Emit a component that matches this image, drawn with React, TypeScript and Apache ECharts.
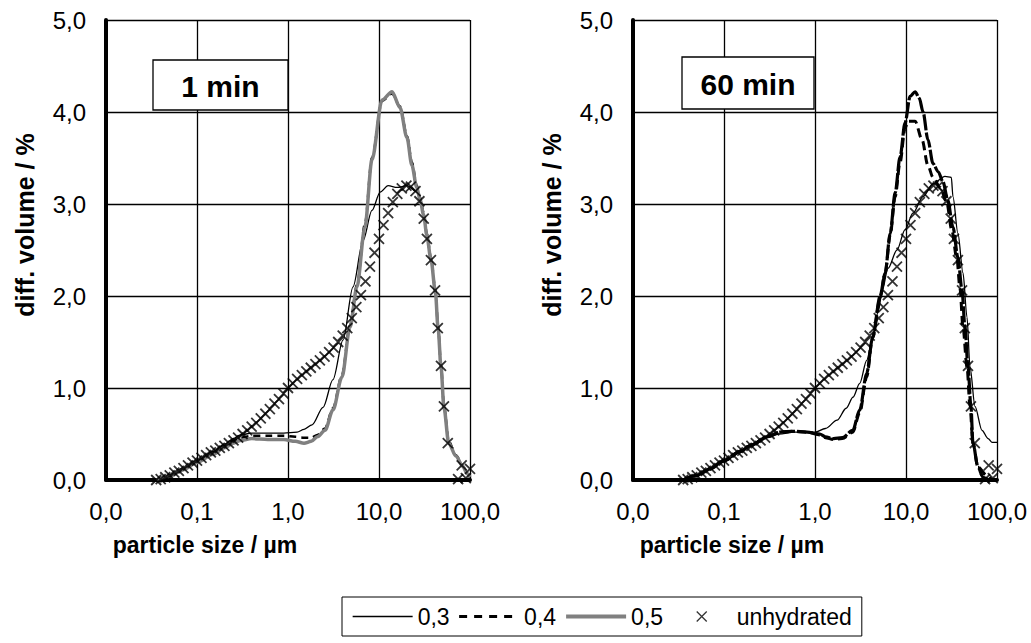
import React, { useEffect, useRef } from "react";
import * as echarts from "echarts";

// ---------- data (particle size in µm, diff. volume in %) ----------
const legendNames = ["0,3", "0,4", "0,5", "unhydrated"];
const panelTitles = ["1 min", "60 min"];

const unhydSize = [
  0.0356, 0.0399, 0.0448, 0.0502, 0.0564, 0.0632, 0.071, 0.0796, 0.0893, 0.1,
  0.112, 0.126, 0.142, 0.159, 0.178, 0.2, 0.224, 0.252, 0.283, 0.317,
  0.356, 0.399, 0.448, 0.502, 0.564, 0.632, 0.71, 0.796, 0.893, 1.0,
  1.13, 1.26, 1.42, 1.59, 1.78, 2.0, 2.24, 2.52, 2.83, 3.17,
  3.56, 3.99, 4.48, 5.02, 5.64, 6.33, 7.1, 7.96, 8.93, 10.0,
  11.2, 12.6, 14.2, 15.9, 17.8, 20.0, 22.4, 25.2, 27.8, 31.0,
  33.6, 37.2, 41.3, 44.3, 48.0, 51.7, 57.0, 74.0, 81.0, 90.0, 100,
];
const unhydVol = [
  0.0, 0.01, 0.03, 0.05, 0.08, 0.1, 0.13, 0.16, 0.19, 0.21,
  0.24, 0.27, 0.3, 0.32, 0.35, 0.37, 0.4, 0.43, 0.46, 0.5,
  0.54, 0.58, 0.62, 0.67, 0.72, 0.77, 0.83, 0.88, 0.94, 1.0,
  1.05, 1.1, 1.14, 1.18, 1.22, 1.26, 1.3, 1.34, 1.39, 1.44,
  1.5, 1.57, 1.65, 1.76, 1.88, 2.01, 2.16, 2.32, 2.47, 2.62,
  2.77, 2.9, 3.02, 3.11, 3.17, 3.2, 3.19, 3.14, 3.03, 2.84,
  2.62, 2.39, 2.06, 1.65, 1.24, 0.8, 0.4, 0.01, 0.16, 0.02, 0.12,
];

// 1 min, w/c 0,3
const m1w03Size = [
  0.036, 0.05, 0.07, 0.1, 0.15, 0.2, 0.25, 0.3, 0.4, 0.6, 0.9, 1.26, 1.5, 1.84,
  2.43, 3.12, 4.02, 5.18, 6.67, 8.37, 10.3, 12.6, 15.8, 20.3, 26.2, 28.2, 31.0,
  33.5, 37.3, 41.6, 44.6, 48.0, 51.8, 58.4, 70.0, 83.4, 92.7, 100,
];
const m1w03Vol = [
  0.0, 0.05, 0.12, 0.21, 0.31, 0.39, 0.45, 0.49, 0.51, 0.51, 0.51, 0.52, 0.55, 0.6,
  0.79, 1.09, 1.52, 2.1, 2.6, 2.93, 3.13, 3.2, 3.18, 3.2, 3.13, 3.05, 2.88,
  2.66, 2.39, 2.05, 1.65, 1.23, 0.78, 0.4, 0.26, 0.15, 0.07, 0.03,
];

// 1 min, w/c 0,4 and 0,5 (same sizes)
const m1Size = [
  0.036, 0.05, 0.07, 0.1, 0.15, 0.2, 0.25, 0.3, 0.4, 0.6, 0.9, 1.2, 1.5, 1.8,
  2.1, 2.55, 3.12, 3.92, 4.8, 5.73, 7.0, 8.37, 10.8, 13.9, 17.0, 20.3, 23.0,
  26.0, 28.2, 31.0, 33.5, 37.3, 41.6, 44.6, 48.0, 51.8, 58.4, 70.0, 83.4, 92.7, 100,
];
const m1w04Vol = [
  0.0, 0.05, 0.12, 0.2, 0.29, 0.37, 0.43, 0.46, 0.48, 0.48, 0.48, 0.47, 0.46, 0.46,
  0.49, 0.56, 0.78, 1.14, 1.68, 2.12, 2.78, 3.5, 4.12, 4.2, 4.06, 3.74, 3.45,
  3.2, 3.07, 2.9, 2.68, 2.41, 2.07, 1.67, 1.25, 0.8, 0.42, 0.27, 0.15, 0.07, 0.03,
];
const m1w05Vol = [
  0.0, 0.04, 0.11, 0.19, 0.28, 0.35, 0.4, 0.43, 0.45, 0.44, 0.44, 0.42, 0.4, 0.42,
  0.47, 0.54, 0.76, 1.12, 1.66, 2.1, 2.75, 3.48, 4.13, 4.22, 4.05, 3.72, 3.42,
  3.18, 3.05, 2.88, 2.66, 2.39, 2.05, 1.65, 1.23, 0.78, 0.4, 0.26, 0.15, 0.07, 0.03,
];

// 60 min, w/c 0,3
const m60w03Size = [
  0.036, 0.05, 0.07, 0.1, 0.15, 0.2, 0.3, 0.4, 0.6, 0.8, 1.0, 1.3, 1.75, 2.2,
  2.62, 3.1, 3.7, 4.3, 5.0, 5.45, 6.34, 7.96, 9.75, 11.9, 15.4, 19.8, 26.8,
  31.5, 32.8, 37.2, 42.3, 46.8, 50.5, 57.3, 68.4, 80.0, 88.0, 100,
];
const m60w03Vol = [
  0.0, 0.05, 0.12, 0.2, 0.3, 0.38, 0.46, 0.5, 0.52, 0.52, 0.52, 0.56, 0.65, 0.78,
  0.9, 1.05, 1.3, 1.55, 1.85, 2.05, 2.3, 2.5, 2.72, 2.9, 3.08, 3.22, 3.3,
  3.29, 3.08, 2.68, 2.25, 1.77, 1.23, 0.8, 0.54, 0.45, 0.41, 0.41,
];

// 60 min, w/c 0,4
const m60w04Size = [
  0.036, 0.05, 0.07, 0.1, 0.15, 0.2, 0.3, 0.41, 0.57, 0.82, 1.13, 1.3, 1.6, 2.0,
  2.6, 3.1, 3.7, 4.3, 5.2, 5.9, 6.7, 7.6, 8.6, 9.75, 10.5, 12.6, 15.0, 17.4,
  19.8, 23.7, 28.0, 31.8, 36.3, 39.2, 42.3, 46.8, 50.5, 54.4, 61.8, 77.0, 90.0, 100,
];
const m60w04Vol = [
  0.0, 0.05, 0.12, 0.21, 0.31, 0.38, 0.47, 0.52, 0.53, 0.52, 0.49, 0.46, 0.44, 0.45,
  0.52, 0.73, 1.12, 1.55, 1.98, 2.25, 2.66, 3.08, 3.45, 3.82, 3.9, 3.9, 3.7, 3.42,
  3.29, 3.18, 3.02, 2.72, 2.4, 2.08, 1.66, 1.23, 0.8, 0.4, 0.14, 0.05, 0.0, 0.0,
];

// 60 min, w/c 0,5
const m60w05Size = [
  0.036, 0.05, 0.07, 0.1, 0.15, 0.2, 0.3, 0.41, 0.57, 0.82, 1.13, 1.3, 1.6, 2.0,
  2.6, 3.1, 3.7, 4.3, 5.2, 5.9, 6.7, 7.6, 8.6, 9.75, 11.1, 12.6, 14.0, 15.4,
  17.4, 19.8, 22.6, 25.5, 28.8, 32.8, 37.2, 41.2, 44.5, 48.0, 51.7, 54.4, 61.8, 70.2, 83.8, 100,
];
const m60w05Vol = [
  0.0, 0.05, 0.12, 0.21, 0.31, 0.38, 0.47, 0.52, 0.53, 0.52, 0.5, 0.47, 0.45, 0.46,
  0.54, 0.76, 1.16, 1.55, 2.0, 2.25, 2.68, 3.12, 3.51, 3.88, 4.17, 4.22, 4.15, 4.0,
  3.7, 3.44, 3.35, 3.24, 3.04, 2.75, 2.42, 2.07, 1.66, 1.23, 0.8, 0.4, 0.14, 0.03, 0.0, 0.0,
];

const zip = (xs: number[], ys: number[]) => xs.map((x, i) => [x, ys[i]]);

const FONT = "'Liberation Sans', Arial, sans-serif";
const fmt = (v: number) => (Math.round(v * 10) / 10).toFixed(1).replace(".", ",");
const CROSS = "path://M0,0L10,10M10,0L0,10";
// same cross, centred in a wide box so the legend keeps it small and centred
const CROSS_LEGEND = "path://M0,0M60,10M25,0L35,10M35,0L25,10";

export default function App() {
  const ref = useRef<HTMLDivElement>(null);

  useEffect(() => {
    if (!ref.current) return;
    const chart = echarts.init(ref.current, undefined, { renderer: "svg" });

    const grids = [
      { left: 106, top: 20, width: 364, height: 460 },
      { left: 633, top: 20, width: 364, height: 460 },
    ];

    const xAxis = grids.map((_, i) => ({
      type: "log",
      logBase: 10,
      gridIndex: i,
      min: 0.01,
      max: 100,
      name: "particle size / µm",
      nameLocation: "middle",
      nameGap: 53,
      nameTextStyle: {
        fontFamily: FONT,
        fontSize: 23,
        fontWeight: "bold",
        color: "#000",
        padding: [0, 166, 0, 0],
      },
      axisLine: { show: true, onZero: false, lineStyle: { color: "#000", width: 4 } },
      axisTick: { show: false },
      minorTick: { show: false },
      axisLabel: { fontFamily: FONT, fontSize: 24, color: "#000", margin: 19, formatter: fmt },
      splitLine: { show: true, lineStyle: { color: "#000", width: 1.3 } },
    }));

    const yAxis = grids.map((_, i) => ({
      type: "value",
      gridIndex: i,
      min: 0,
      max: 5,
      interval: 1,
      name: "diff. volume / %",
      nameLocation: "middle",
      nameGap: 69,
      nameTextStyle: {
        fontFamily: FONT,
        fontSize: 25,
        fontWeight: "bold",
        color: "#000",
        padding: [0, 0, 0, 50],
      },
      axisLine: { show: true, lineStyle: { color: "#000", width: 4 } },
      axisTick: { show: false },
      axisLabel: { fontFamily: FONT, fontSize: 24, color: "#000", margin: 20, formatter: fmt },
      splitLine: { show: true, lineStyle: { color: "#000", width: 1.3 } },
    }));

    const lineBase = {
      type: "line",
      symbol: "none",
      smooth: 0.3,
      smoothMonotone: "x",
      clip: true,
    };

    const scatter = (i: number) => ({
      type: "scatter",
      name: legendNames[3],
      xAxisIndex: i,
      yAxisIndex: i,
      symbol: CROSS,
      symbolSize: 10,
      itemStyle: { color: "#000", borderColor: "#000", borderWidth: 1.8 },
      data: zip(unhydSize, unhydVol),
      z: 5,
    });

    const series: any[] = [
      {
        ...lineBase,
        name: legendNames[0],
        xAxisIndex: 0,
        yAxisIndex: 0,
        itemStyle: { color: "#000" },
        lineStyle: { color: "#000", width: 1.3 },
        data: zip(m1w03Size, m1w03Vol),
      },
      {
        ...lineBase,
        name: legendNames[1],
        xAxisIndex: 0,
        yAxisIndex: 0,
        itemStyle: { color: "#000" },
        lineStyle: { color: "#000", width: 2.5, type: [7, 5] },
        data: zip(m1Size, m1w04Vol),
      },
      {
        ...lineBase,
        name: legendNames[2],
        xAxisIndex: 0,
        yAxisIndex: 0,
        itemStyle: { color: "#808080" },
        lineStyle: { color: "#808080", width: 3.5 },
        data: zip(m1Size, m1w05Vol),
      },
      scatter(0),
      {
        ...lineBase,
        name: legendNames[0],
        xAxisIndex: 1,
        yAxisIndex: 1,
        itemStyle: { color: "#000" },
        lineStyle: { color: "#000", width: 1.3 },
        data: zip(m60w03Size, m60w03Vol),
      },
      {
        ...lineBase,
        name: legendNames[2],
        xAxisIndex: 1,
        yAxisIndex: 1,
        itemStyle: { color: "#000" },
        lineStyle: { color: "#000", width: 3.2, type: [16, 2] },
        data: zip(m60w05Size, m60w05Vol),
      },
      {
        ...lineBase,
        name: legendNames[1],
        xAxisIndex: 1,
        yAxisIndex: 1,
        itemStyle: { color: "#000" },
        lineStyle: { color: "#000", width: 3, type: [9, 5] },
        data: zip(m60w04Size, m60w04Vol),
      },
      scatter(1),
    ];

    const boxes = [
      { x: 153, y: 60, w: 135, h: 50 },
      { x: 682, y: 57, w: 132, h: 52 },
    ];

    const hidden = { opacity: 0, color: "rgba(0,0,0,0)", borderWidth: 0 };

    chart.setOption({
      animation: false,
      backgroundColor: "#fff",
      grid: grids,
      xAxis,
      yAxis,
      legend: {
        data: [
          { name: legendNames[0], itemStyle: hidden, lineStyle: { color: "#000", width: 1.3 } },
          {
            name: legendNames[1],
            itemStyle: hidden,
            lineStyle: { color: "#000", width: 3, type: [8, 7] },
          },
          { name: legendNames[2], itemStyle: hidden, lineStyle: { color: "#808080", width: 4 } },
          {
            name: legendNames[3],
            icon: CROSS_LEGEND,
            itemStyle: { color: "#000", borderColor: "#000", borderWidth: 1.3 },
          },
        ],
        left: 342,
        top: 597,
        orient: "horizontal",
        itemWidth: 60,
        itemHeight: 10,
        itemGap: 8,
        padding: [8, 10, 8, 10],
        borderColor: "#000",
        borderWidth: 1,
        selectedMode: false,
        textStyle: { fontFamily: FONT, fontSize: 23, color: "#000" },
      },
      graphic: boxes.flatMap((b, i) => [
        {
          type: "rect",
          shape: { x: b.x, y: b.y, width: b.w, height: b.h },
          style: { fill: "#fff", stroke: "#000", lineWidth: 1.3 },
          z: 100,
        },
        {
          type: "text",
          x: b.x + b.w / 2,
          y: b.y + b.h / 2 + 1,
          style: {
            text: panelTitles[i],
            fontFamily: FONT,
            fontSize: 30,
            fontWeight: "bold",
            fill: "#000",
            align: "center",
            verticalAlign: "middle",
          },
          z: 101,
        },
      ]),
      series,
    });

    return () => chart.dispose();
  }, []);

  return (
    <div
      ref={ref}
      style={{ position: "fixed", left: 0, top: 0, width: 1031, height: 643, background: "#fff" }}
    />
  );
}
